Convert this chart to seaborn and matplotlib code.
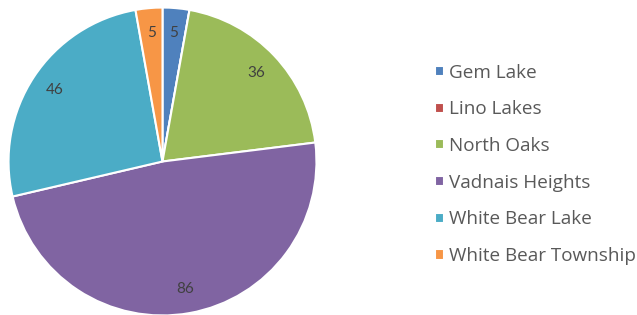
import matplotlib
matplotlib.use("Agg")
import matplotlib.pyplot as plt
import seaborn as sns

cities = ["Gem Lake", "Lino Lakes", "North Oaks", "Vadnais Heights",
          "White Bear Lake", "White Bear Township"]
counts = [5, 0, 36, 86, 46, 5]
colors = ["#4F81BD", "#C0504D", "#9BBB59", "#8064A2", "#4BACC6", "#F79646"]

sns.set_theme(style="white")
plt.rcParams['font.family'] = ['Lato', 'DejaVu Sans']

total = sum(counts)
pal = sns.color_palette(colors)

fig = plt.figure(figsize=(6.37, 3.15), dpi=100)
ax = fig.add_axes([7 / 637, -2 / 315, 311 / 637, 311 / 315])

def show_value(p):
    v = round(p * total / 100)
    return f"{v}" if v > 0 else ""

wedges, texts, autotexts = ax.pie(
    counts, colors=pal, startangle=90, counterclock=False,
    autopct=show_value, pctdistance=0.84,
    wedgeprops={"edgecolor": "white", "linewidth": 1.5},
    textprops={"color": "#404040", "fontsize": 11},
)
ax.set_aspect("equal")
ax.set_xlim(-1.01, 1.01)
ax.set_ylim(-1.01, 1.01)

fig.legend(wedges, cities, loc="center left", bbox_to_anchor=(418 / 637, 0.478),
           frameon=False, prop={"family": ["Open Sans", "DejaVu Sans"], "size": 13.6},
           labelcolor="#595959",
           handlelength=0.45, handleheight=0.45, handletextpad=0.3,
           labelspacing=0.99)

fig.savefig("out.png", dpi=100, facecolor="white")
